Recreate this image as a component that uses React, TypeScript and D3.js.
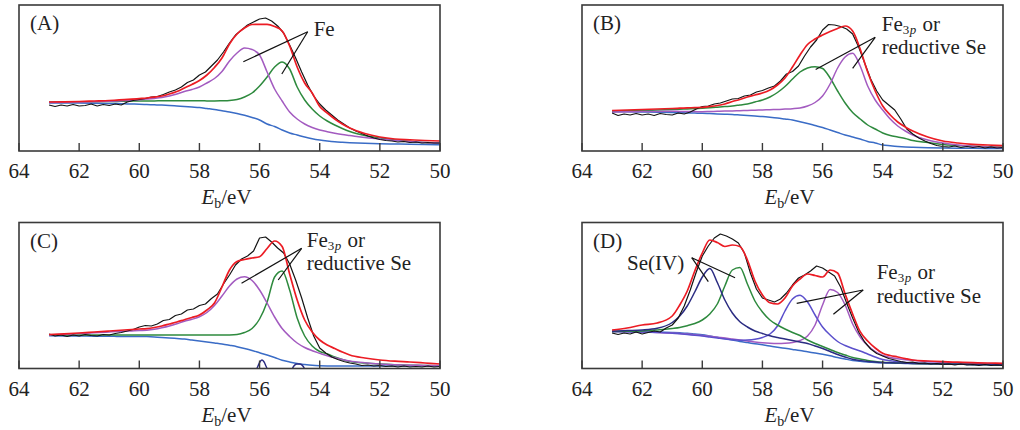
import React from 'react';
import * as d3 from 'd3';

// Binding energy grids (eV)
const E_GRID = [63, 62.5, 62, 61.5, 61, 60.75, 60.5, 60.25, 60, 59.75, 59.5, 59.25, 59, 58.75, 58.5, 58.25, 58, 57.75, 57.5, 57.25, 57, 56.75, 56.5, 56.25, 56, 55.75, 55.5, 55.25, 55, 54.75, 54.5, 54.25, 54, 53.75, 53.5, 53.25, 53, 52.5, 52, 51.5, 51, 50.5, 50];
const E_FINE = [63, 62.8, 62.6, 62.4, 62.2, 62, 61.8, 61.6, 61.4, 61.2, 61, 60.8, 60.6, 60.4, 60.2, 60, 59.8, 59.6, 59.4, 59.2, 59, 58.8, 58.6, 58.4, 58.2, 58, 57.8, 57.6, 57.4, 57.2, 57, 56.8, 56.6, 56.4, 56.2, 56, 55.8, 55.6, 55.4, 55.2, 55, 54.8, 54.6, 54.4, 54.2, 54, 53.8, 53.6, 53.4, 53.2, 53, 52.8, 52.6, 52.4, 52.2, 52, 51.8, 51.6, 51.4, 51.2, 51, 50.8, 50.6, 50.4, 50.2, 50];
const X_TICKS = [64, 62, 60, 58, 56, 54, 52, 50];

// Panel A
const A_BLUE = [48, 48, 48, 47.8, 47.5, 47.4, 47.2, 47, 46.8, 46.5, 46.2, 45.9, 45.5, 45, 44.5, 44, 43.5, 42.5, 41.5, 40.2, 39, 37.5, 35.7, 33.5, 31, 27, 24.5, 21, 18, 16, 14, 12.3, 11, 10, 9.2, 8.7, 8.3, 7.7, 7.3, 7, 6.7, 6.5, 6.3];
const A_GREEN = [49, 49.1, 49.2, 49.3, 49.5, 49.6, 49.8, 49.9, 50, 50.1, 50.1, 50.2, 50.2, 50.2, 50.2, 50.2, 50.2, 50.1, 50, 50.2, 50.5, 51.5, 54, 58, 65, 74, 84, 89, 82, 64, 51, 42, 35, 30, 26, 22.5, 19.5, 15.5, 13, 11, 9.5, 8.5, 7.7];
const A_PURPLE = [48.5, 48.7, 49, 49.3, 49.7, 50, 50.4, 50.8, 51.3, 51.9, 52.6, 53.5, 55, 57, 59.5, 61.5, 64, 68, 72.5, 79.5, 90, 98, 103, 101.5, 96, 79, 62, 50, 39, 32, 27, 23.5, 21, 19.3, 17.8, 16.5, 15.5, 13.5, 12, 10.5, 9.5, 8.5, 8];
const A_RED = [49, 49.2, 49.5, 50, 50.5, 50.9, 51.3, 51.8, 52.4, 53, 53.8, 55, 57, 59.5, 63, 66.5, 70.5, 76, 83.5, 93, 107, 117, 123, 126.5, 126.7, 126.7, 124.5, 120, 105, 84, 68, 58, 44.5, 38, 32, 27, 23, 17.5, 14, 12, 11.2, 10.5, 10];
const A_BLACK = [46, 44.5, 46, 45, 46.5, 45, 45.5, 47, 45, 46.5, 45.5, 47, 46, 49, 50.5, 51.5, 52.5, 54, 54.5, 56.5, 59, 61, 64, 68.5, 71, 76, 79, 85, 91, 99, 108, 116, 121, 126, 129, 132, 133, 130, 125, 118, 106, 93, 79, 66, 55, 47, 41, 36, 31, 27, 23, 20, 17.5, 15, 13, 11.5, 10.5, 10, 9, 9.5, 8.5, 9, 8, 8.5, 8, 8];

// Panel B
const B_BLUE = [39.3, 39.2, 39, 38.8, 38.5, 38.3, 38.1, 37.9, 37.7, 37.4, 37.1, 36.8, 36.5, 36, 35.5, 35, 34.5, 33.8, 33, 32, 31, 29.3, 27.5, 25.5, 23.5, 21, 18.5, 16, 14, 12, 9.5, 8, 6, 5.2, 4.5, 4, 3.7, 3.3, 3, 2.8, 2.7, 2.6, 2.5];
const B_GREEN = [40, 40.2, 40.5, 41, 41.5, 41.8, 42.1, 42.4, 42.7, 43.2, 43.8, 44.4, 45, 46, 47, 49, 51, 54, 58.5, 64.5, 72, 79, 83, 84.3, 82.5, 73, 60, 48, 38.5, 32, 26, 22, 18, 15.5, 14, 12.5, 10.5, 8.5, 6.5, 5.5, 4.7, 4.2, 3.8];
const B_PURPLE = [39, 39.2, 39.5, 39.6, 39.7, 39.6, 39.5, 39.4, 39.3, 39.5, 39.7, 39.9, 40, 40.3, 40.5, 40.8, 41, 41.3, 41.5, 41.9, 42.3, 43, 45, 48.5, 55, 67, 83, 94, 97.7, 85, 65, 51, 41, 32, 25, 20, 16, 11, 8, 6, 4.7, 4, 3.5];
const B_RED = [40.5, 41, 41.5, 42, 42.5, 42.8, 43.1, 43.4, 43.7, 44.5, 45.5, 47, 49.5, 51.5, 54, 56, 58, 61, 66, 73, 84, 96, 106.5, 112, 116, 119.5, 122.5, 125, 120, 102, 79, 60, 45, 36, 29, 24, 20, 14, 10, 8, 6.7, 6, 5.3];
const B_BLACK = [38, 35.5, 37, 36, 37.5, 36, 37, 35.5, 37.5, 36.5, 36, 38, 37, 39, 42, 44.5, 45, 47, 48, 50, 52, 52.5, 55, 56, 59, 60.5, 63, 65, 70, 77, 79.5, 85, 95, 104, 111, 121, 126.5, 126, 124.5, 122, 117, 104, 88, 72, 60, 51, 46, 41, 32, 22, 17, 13, 10, 7.5, 5.5, 4.5, 4, 5, 3.5, 4.5, 3.5, 4.5, 3, 4, 3, 3.5];

// Panel C
const C_BLUE = [32.8, 32.6, 32.5, 32.3, 32.2, 32.1, 32, 32, 32, 31.9, 31.6, 31.1, 30.5, 30, 29.5, 28.5, 27.5, 26.5, 25.5, 24.5, 23.2, 21.8, 20, 18, 15.7, 13.5, 11, 8.2, 6.5, 5, 4, 3.2, 2.8, 2.6, 2.5, 2.5, 2.5, 2.5, 2.5, 2.5, 2.5, 2.5, 2.5];
const C_GREEN = [33.5, 33.5, 33.5, 33.5, 33.5, 33.5, 33.5, 33.5, 33.5, 33.5, 33.5, 33.5, 33.5, 33.5, 33.5, 33.5, 33.5, 33.5, 33.5, 33.5, 33.6, 34, 36, 40, 49.5, 66.5, 91.5, 97.5, 78.5, 50.5, 32.5, 22.5, 17, 14.5, 11.5, 9, 7, 5.5, 4.5, 3.8, 3.3, 3, 2.8];
const C_PURPLE = [33.5, 34.2, 35, 35.7, 36.5, 36.9, 37.2, 37.6, 38, 38.3, 39.2, 40.7, 42.5, 44.7, 47.2, 49.2, 51.7, 56, 63, 72.5, 82.5, 89.5, 91.8, 88, 78.5, 65.5, 51.5, 40, 32, 25.5, 21, 17.8, 15.2, 12.7, 10.7, 9, 7.5, 5.7, 4.5, 3.8, 3.3, 3, 2.8];
const C_RED = [34, 34.7, 35.5, 36.5, 37.5, 38, 38.5, 39, 39.5, 39.9, 41, 42.5, 44.5, 46.5, 48.8, 51, 53.5, 58.5, 65.5, 81.5, 98.5, 107, 109, 110.5, 111.8, 120, 127.5, 122, 94.5, 68.5, 48.5, 36.5, 28.5, 23.5, 20, 16.5, 13.5, 10.5, 8.5, 7.3, 6.5, 5.5, 4.5];
const C_BLACK = [34.5, 32.5, 33.5, 32, 33.5, 32.5, 34, 33, 32.5, 34, 33.5, 35, 36, 37.5, 39, 41.5, 43, 42.5, 44.5, 48, 49, 53, 54.5, 58.5, 59.5, 63, 64.5, 70, 74.5, 84.5, 93.5, 103.5, 109.5, 112.5, 117.5, 130.5, 131.5, 126.5, 120.5, 115.5, 104.5, 88.5, 70.5, 50.5, 32.5, 20.5, 15.5, 11.5, 9, 7, 5.5, 4.5, 3, 3.5, 2.5, 3, 2, 2.5, 1.5, 2.5, 1.5, 2, 1.5, 2.5, 1.5, 2];
const C_RES1_E = [56.15, 56.06, 55.98, 55.92, 55.86, 55.78, 55.7];
const C_RES1_V = [-4, 2, 7, 8.5, 7, 2, -4];
const C_RES2_E = [54.95, 54.86, 54.76, 54.66, 54.56, 54.46];
const C_RES2_V = [-3, 2.5, 4.5, 4.5, 2.5, -3];

// Panel D
const D_BLUE = [37, 36.9, 36.8, 36.5, 36, 35.7, 35.3, 34.5, 33.7, 32.5, 31.2, 29.9, 28.5, 27, 25.9, 24.8, 23.7, 22.5, 21.3, 20.2, 19.1, 18, 16.7, 15.5, 14.2, 12.7, 11, 9.5, 8.1, 7.2, 6.5, 6, 5.7, 5.5, 5.3, 5.1, 5, 4.8, 4.5, 4.3, 4.1, 3.9, 3.8];
const D_NAVY = [37.3, 37.9, 38.5, 40.2, 46, 52.5, 62.5, 76.5, 91.5, 100, 86, 68.5, 55.5, 46.8, 41.5, 37.5, 35, 32.7, 31, 29.5, 28, 26.5, 25, 22.5, 20, 17, 14, 11.5, 9.2, 8, 7, 6.5, 6, 5.7, 5.5, 5.3, 5.1, 4.8, 4.5, 4.3, 4.1, 3.9, 3.8];
const D_GREEN = [37, 37.3, 37.5, 38.5, 40, 41, 42.8, 45, 48.5, 54.5, 64.5, 82.5, 98.5, 101, 84.5, 67.5, 56.5, 48.5, 43.5, 39.5, 36, 33, 28.5, 25, 22, 19, 16, 13.5, 11, 9.5, 8, 7, 6.3, 5.9, 5.5, 5.3, 5.1, 4.8, 4.5, 4.3, 4.1, 3.9, 3.8];
const D_SLATE = [37, 36.8, 36.5, 36, 35.3, 34.7, 34, 33.2, 32.5, 31.5, 30.5, 29.5, 28.7, 28.3, 28.5, 29.2, 31, 34.5, 42.5, 57.5, 69.5, 73.2, 66.5, 53.5, 41.5, 33.5, 27, 23, 20, 17.5, 14.5, 11.5, 9, 7.7, 6.7, 6.1, 5.7, 5.2, 4.7, 4.4, 4.1, 3.9, 3.8];
const D_PURPLE = [37, 36.8, 36.5, 36, 35.5, 35, 34.5, 33.8, 33, 32.2, 31.3, 30.5, 29.5, 28.5, 27.5, 26.5, 25.7, 25.2, 25, 25.2, 26, 28, 32.5, 43.5, 63.5, 79, 76, 63.5, 44.5, 31.5, 23, 17, 13, 11, 9.7, 8.8, 8.2, 7, 6.2, 5.5, 5, 4.5, 4.2];
const D_RED = [38.5, 40.5, 43.5, 45.5, 52.5, 63.5, 77.5, 97.5, 115.5, 128.5, 126, 122, 123.5, 122, 108.5, 87.5, 73.5, 65.7, 64.5, 70.5, 82.5, 89.5, 94.5, 93, 91.5, 98.5, 95.5, 74.5, 54.5, 36.8, 27.5, 20.5, 15.2, 13, 11.5, 9.9, 8.5, 7.5, 6.8, 6.3, 5.8, 5.5, 5.2];
const D_BLACK = [35.5, 34, 35.5, 34.5, 36.5, 34.5, 36, 37.5, 36.5, 40.5, 43.5, 50.5, 62.5, 78.5, 96.5, 112.5, 122.5, 130.5, 134.5, 132.5, 129.5, 125.5, 115.5, 95.5, 79.5, 70.5, 68.5, 66.5, 69.5, 75.5, 83.5, 90.5, 93.5, 97.5, 102.5, 100.5, 96.5, 92.5, 81.5, 65.5, 50.5, 36.5, 26.5, 19.5, 15, 12.5, 10, 8.5, 7, 6, 6.5, 5, 5.5, 4.5, 5, 4, 4.5, 3.5, 4.5, 3.5, 4, 3, 4, 3, 3.5, 3];

const COLORS = {
  black: '#141414',
  red: '#ec1c24',
  purple: '#a35bc0',
  green: '#2e8a3e',
  blue: '#3a6cc6',
  navy: '#2b2c82',
  slate: '#5b50cc',
  frame: '#3a3a3a',
};

type Series = { e: number[]; v: number[]; color: string; smooth: boolean; width: number };
type Leader = { from: [number, number]; to: [number, number][] };
type Label = { e: number; v: number; lines: { text: string; sub?: boolean }[]; lineGap: number };

interface Panel {
  tag: string;
  left: number;
  top: number;
  series: Series[];
  leaders: Leader[];
  labels: Label[];
}

const W = 421;
const H = 146;
const FONT = "'Liberation Serif', 'Times New Roman', Times, serif";
const FS = 21;

const sm = (e: number[], v: number[], color: string, width = 1.5): Series => ({ e, v, color, smooth: true, width });
const raw = (e: number[], v: number[], color: string, width = 1.2): Series => ({ e, v, color, smooth: false, width });

const PANELS: Panel[] = [
  {
    tag: '(A)', left: 19, top: 5,
    series: [
      sm(E_GRID, A_BLUE, COLORS.blue),
      sm(E_GRID, A_GREEN, COLORS.green),
      sm(E_GRID, A_PURPLE, COLORS.purple),
      raw(E_FINE, A_BLACK, COLORS.black),
      sm(E_GRID, A_RED, COLORS.red, 1.7),
    ],
    leaders: [{ from: [54.4, 119.3], to: [[56.54, 89.3], [55.26, 77]] }],
    labels: [{ e: 54.2, v: 115.3, lines: [{ text: 'Fe' }], lineGap: 22 }],
  },
  {
    tag: '(B)', left: 582, top: 5,
    series: [
      sm(E_GRID, B_BLUE, COLORS.blue),
      sm(E_GRID, B_GREEN, COLORS.green),
      sm(E_GRID, B_PURPLE, COLORS.purple),
      raw(E_FINE, B_BLACK, COLORS.black),
      sm(E_GRID, B_RED, COLORS.red, 1.7),
    ],
    leaders: [{ from: [54.25, 113.7], to: [[56.23, 81.5], [55.0, 82.7]] }],
    labels: [{ e: 54.03, v: 120.5, lines: [{ text: 'Fe', sub: true }, { text: 'reductive Se' }], lineGap: 23.5 }],
  },
  {
    tag: '(C)', left: 19, top: 222.5,
    series: [
      sm(E_GRID, C_BLUE, COLORS.blue),
      sm(E_GRID, C_GREEN, COLORS.green),
      sm(E_GRID, C_PURPLE, COLORS.purple),
      sm(C_RES1_E, C_RES1_V, COLORS.navy, 1.4),
      sm(C_RES2_E, C_RES2_V, COLORS.navy, 1.4),
      raw(E_FINE, C_BLACK, COLORS.black),
      sm(E_GRID, C_RED, COLORS.red, 1.7),
    ],
    leaders: [{ from: [54.6, 120.2], to: [[56.6, 85.2], [55.38, 88.5]] }],
    labels: [{ e: 54.43, v: 122, lines: [{ text: 'Fe', sub: true }, { text: 'reductive Se' }], lineGap: 23.7 }],
  },
  {
    tag: '(D)', left: 582, top: 222.5,
    series: [
      sm(E_GRID, D_BLUE, COLORS.blue),
      sm(E_GRID, D_PURPLE, COLORS.purple),
      sm(E_GRID, D_SLATE, COLORS.slate),
      sm(E_GRID, D_GREEN, COLORS.green),
      sm(E_GRID, D_NAVY, COLORS.navy),
      raw(E_FINE, D_BLACK, COLORS.black),
      sm(E_GRID, D_RED, COLORS.red, 1.7),
    ],
    leaders: [
      { from: [60.35, 110.8], to: [[59.8, 86.8], [58.91, 90.8]] },
      { from: [54.65, 78.5], to: [[56.86, 65.2], [55.64, 54.2]] },
    ],
    labels: [
      { e: 62.5, v: 98.5, lines: [{ text: 'Se(IV)' }], lineGap: 22 },
      { e: 54.2, v: 90, lines: [{ text: 'Fe', sub: true }, { text: 'reductive Se' }], lineGap: 24.5 },
    ],
  },
];

function PanelView({ p }: { p: Panel }) {
  const x = d3.scaleLinear().domain([64, 50]).range([p.left, p.left + W]);
  const y = d3.scaleLinear().domain([0, H]).range([p.top + H, p.top]);
  const bottom = p.top + H;
  const clipId = `clip-${p.tag.replace(/[()]/g, '')}`;
  return (
    <g>
      <defs>
        <clipPath id={clipId}>
          <rect x={p.left} y={p.top} width={W} height={H} />
        </clipPath>
      </defs>
      <g clipPath={`url(#${clipId})`}>
        {p.series.map((s, i) => {
          const pts: [number, number][] = s.e.map((e, j) => [e, s.v[j]]);
          const line = d3
            .line<[number, number]>()
            .x((d) => x(d[0]))
            .y((d) => y(d[1]))
            .curve(s.smooth ? d3.curveMonotoneX : d3.curveLinear);
          return (
            <path key={i} d={line(pts) || ''} fill="none" stroke={s.color} strokeWidth={s.width} strokeLinejoin="round" />
          );
        })}
      </g>
      {p.leaders.map((l, i) =>
        l.to.map((t, k) => (
          <line key={`${i}-${k}`} x1={x(l.from[0])} y1={y(l.from[1])} x2={x(t[0])} y2={y(t[1])} stroke="#111" strokeWidth={1.2} />
        ))
      )}
      {p.labels.map((lb, i) => (
        <g key={i}>
          {lb.lines.map((ln, k) => (
            <text key={k} x={x(lb.e)} y={y(lb.v) + k * lb.lineGap} fontFamily={FONT} fontSize={FS} fill="#222">
              {ln.sub ? (
                <>
                  {'Fe'}
                  <tspan fontSize={13} dy={3}>
                    {'3'}
                    <tspan fontStyle="italic" dx={0.5}>p</tspan>
                  </tspan>
                  <tspan dy={-3} dx={1}>{' or'}</tspan>
                </>
              ) : (
                ln.text
              )}
            </text>
          ))}
        </g>
      ))}
      <rect x={p.left} y={p.top} width={W} height={H} fill="none" stroke={COLORS.frame} strokeWidth={1.6} />
      {X_TICKS.map((t) => (
        <g key={t}>
          <line x1={x(t)} x2={x(t)} y1={bottom} y2={bottom - 8} stroke={COLORS.frame} strokeWidth={1.4} />
          <text x={x(t)} y={bottom + 27} textAnchor="middle" fontFamily={FONT} fontSize={FS} fill="#222">
            {t}
          </text>
        </g>
      ))}
      <text x={p.left + W / 2 - 3} y={bottom + 53} textAnchor="middle" fontFamily={FONT} fontSize={FS} fill="#222">
        <tspan fontStyle="italic">E</tspan>
        <tspan fontSize={14} dy={4}>b</tspan>
        <tspan dy={-4}>/eV</tspan>
      </text>
      <text x={p.left + 11} y={p.top + 25} fontFamily={FONT} fontSize={FS} fill="#222">
        {p.tag}
      </text>
    </g>
  );
}

export default function App() {
  return (
    <svg
      width={1020}
      height={430}
      viewBox="0 0 1020 430"
      style={{ position: 'absolute', left: 0, top: 0, background: '#fff' }}
    >
      <rect x={0} y={0} width={1020} height={430} fill="#fff" />
      {PANELS.map((p) => (
        <PanelView key={p.tag} p={p} />
      ))}
    </svg>
  );
}
